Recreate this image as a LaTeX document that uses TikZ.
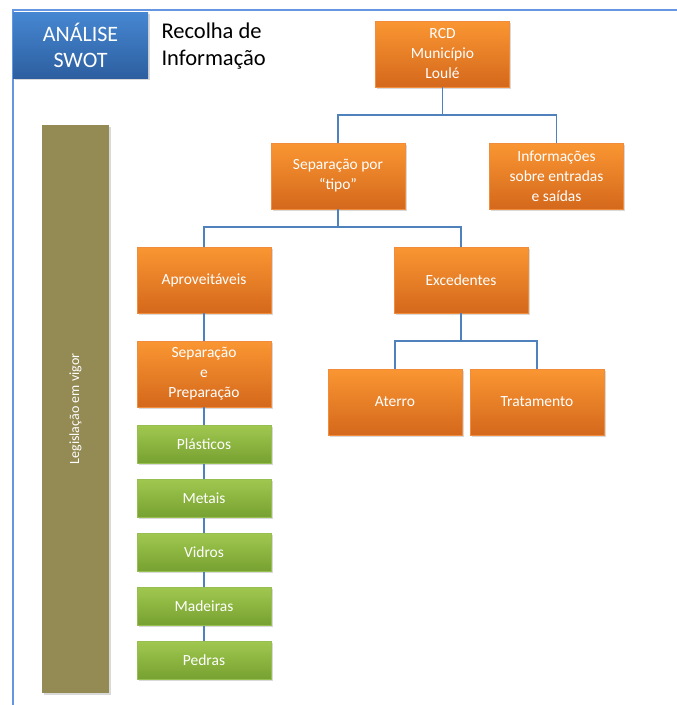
\documentclass[tikz,border=0pt]{standalone}
\usepackage{fontspec}
\setmainfont{Carlito}
\usetikzlibrary{shadows, positioning}
\definecolor{orangetop}{RGB}{250,150,50}
\definecolor{orangebottom}{RGB}{212,104,28}
\definecolor{orangeedge}{RGB}{240,140,60}
\definecolor{greentop}{RGB}{160,200,80}
\definecolor{greenbottom}{RGB}{118,160,48}
\definecolor{greenedge}{RGB}{150,190,80}
\definecolor{bluetop}{RGB}{70,135,210}
\definecolor{bluebottom}{RGB}{45,95,160}
\definecolor{olive}{RGB}{148,138,84}
\definecolor{linkblue}{RGB}{79,129,189}
\definecolor{framblue}{RGB}{100,150,225}
\tikzstyle{orangebox} = [
    rectangle,
    minimum width=134pt,
    minimum height=66pt,
    align=center,
    text=white,
    font=\fontsize{15.5}{20}\selectfont,
    top color=orangetop,
    bottom color=orangebottom,
    draw=orangeedge,
    line width=0.5pt,
    drop shadow={shadow xshift=1.5pt, shadow yshift=-1.5pt, opacity=0.3}
]
\tikzstyle{greenbox} = [
    rectangle,
    minimum width=134pt,
    minimum height=38pt,
    align=center,
    text=white,
    font=\fontsize{15.5}{18}\selectfont,
    top color=greentop,
    bottom color=greenbottom,
    draw=greenedge,
    line width=0.5pt,
    drop shadow={shadow xshift=1.5pt, shadow yshift=-1.5pt, opacity=0.3}
]
\tikzstyle{link} = [
    draw=linkblue,
    line width=1.6pt
]

\begin{document}
\begin{tikzpicture}[x=1pt, y=-1pt, node distance=54pt]
        \useasboundingbox (0,0) rectangle (677,705);
        % frame
        \draw[draw=framblue, line width=2pt] (13,705) -- (13,10) -- (677,10);
        \node (swot) [rectangle, minimum width=135pt, minimum height=66pt, align=center,
            text=white, font=\fontsize{22}{26}\selectfont, top color=bluetop, bottom color=bluebottom,
            drop shadow={shadow xshift=1.5pt, shadow yshift=-1.5pt, opacity=0.3}] at (80.5,45) {ANÁLISE\\SWOT};
        \node (recolha) [anchor=west, align=left, font=\fontsize{22.5}{27}\selectfont] at (158,46) {Recolha de\\Informação};
        \node (legis) [rectangle, minimum width=67pt, minimum height=568pt, fill=olive,
            drop shadow={shadow xshift=1.5pt, shadow yshift=-1.5pt, opacity=0.3}] at (75.5,409) {};
        \node (legtext) [rotate=90, text=white, font=\fontsize{14}{16}\selectfont] at (legis.center) {Legislação em vigor};

        % links first, boxes on top
        \coordinate (rcdfoot) at (442.5,115);
        \coordinate (sepfoot) at (338,227);
        \coordinate (excfoot) at (461,341);

        \node (rcd) [orangebox] at (442.5,54) {RCD\\Município\\Loulé};
        \node (sep) [orangebox] at (338,176) {Separação por\\“tipo”};
        \node (info) [orangebox] at (556.5,176) {Informações\\sobre entradas\\e saídas};
        \node (aprov) [orangebox] at (204,280) {Aproveitáveis};
        \node (exced) [orangebox] at (461,280) {Excedentes};
        \node (prep) [orangebox, below of=aprov, yshift=-40pt] {Separação\\e\\Preparação};
        \node (aterro) [orangebox] at (395,402) {Aterro};
        \node (trat) [orangebox] at (537,402) {Tratamento};

        \node (plast) [greenbox, below of=prep, yshift=-16.5pt] {Plásticos};
        \node (metal) [greenbox, below of=plast] {Metais};
        \node (vidro) [greenbox, below of=metal] {Vidros};
        \node (madeira) [greenbox, below of=vidro] {Madeiras};
        \node (pedra) [greenbox, below of=madeira] {Pedras};

        \draw[link] (rcd.south) -- (rcdfoot) -| (sep.north);
        \draw[link] (rcdfoot) -| (info.north);
        \draw[link] (sep.south) -- (sepfoot) -| (aprov.north);
        \draw[link] (sepfoot) -| (exced.north);
        \draw[link] (exced.south) -- (excfoot) -| (aterro.north);
        \draw[link] (excfoot) -| (trat.north);
        \draw[link] (aprov) -- (prep);
        \draw[link] (prep) -- (plast);
        \draw[link] (plast) -- (metal);
        \draw[link] (metal) -- (vidro);
        \draw[link] (vidro) -- (madeira);
        \draw[link] (madeira) -- (pedra);
    \end{tikzpicture}
\end{document}
